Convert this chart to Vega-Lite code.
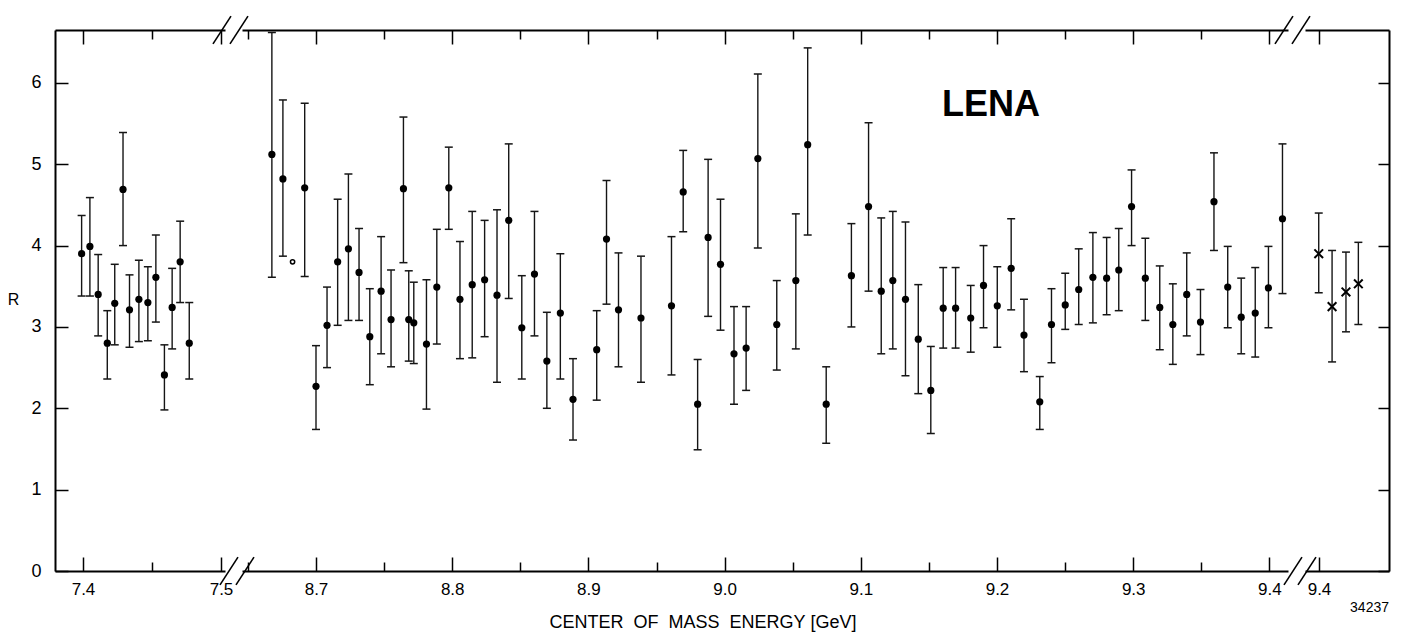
{
  "$schema": "https://vega.github.io/schema/vega-lite/v6.json",
  "padding": {"left": 7, "top": 15, "right": 5, "bottom": 5},
  "background": "white",
  "config": {"view": {"stroke": null}, "font": "Liberation Sans", "axis": {"grid": false}},
  "datasets": {
    "seg1": [
      {"E": 7.399, "R": 3.90, "lo": 3.38, "hi": 4.37, "sym": "dot"},
      {"E": 7.405, "R": 3.99, "lo": 3.38, "hi": 4.59, "sym": "dot"},
      {"E": 7.411, "R": 3.40, "lo": 2.89, "hi": 3.89, "sym": "dot"},
      {"E": 7.4176, "R": 2.80, "lo": 2.36, "hi": 3.20, "sym": "dot"},
      {"E": 7.423, "R": 3.29, "lo": 2.78, "hi": 3.77, "sym": "dot"},
      {"E": 7.429, "R": 4.69, "lo": 4.00, "hi": 5.39, "sym": "dot"},
      {"E": 7.4337, "R": 3.21, "lo": 2.75, "hi": 3.64, "sym": "dot"},
      {"E": 7.4405, "R": 3.34, "lo": 2.82, "hi": 3.82, "sym": "dot"},
      {"E": 7.447, "R": 3.30, "lo": 2.83, "hi": 3.74, "sym": "dot"},
      {"E": 7.4528, "R": 3.61, "lo": 3.06, "hi": 4.13, "sym": "dot"},
      {"E": 7.459, "R": 2.41, "lo": 1.98, "hi": 2.78, "sym": "dot"},
      {"E": 7.4646, "R": 3.24, "lo": 2.73, "hi": 3.72, "sym": "dot"},
      {"E": 7.4704, "R": 3.80, "lo": 3.30, "hi": 4.30, "sym": "dot"},
      {"E": 7.477, "R": 2.80, "lo": 2.36, "hi": 3.30, "sym": "dot"}
    ],
    "seg2": [
      {"E": 8.6676, "R": 5.12, "lo": 3.61, "hi": 6.62, "sym": "dot"},
      {"E": 8.6757, "R": 4.82, "lo": 3.87, "hi": 5.79, "sym": "dot"},
      {"E": 8.6828, "R": 3.80, "lo": null, "hi": null, "sym": "open"},
      {"E": 8.6917, "R": 4.71, "lo": 3.62, "hi": 5.75, "sym": "dot"},
      {"E": 8.7000, "R": 2.27, "lo": 1.74, "hi": 2.77, "sym": "dot"},
      {"E": 8.7081, "R": 3.02, "lo": 2.50, "hi": 3.49, "sym": "dot"},
      {"E": 8.7159, "R": 3.80, "lo": 3.02, "hi": 4.57, "sym": "dot"},
      {"E": 8.7238, "R": 3.96, "lo": 3.08, "hi": 4.88, "sym": "dot"},
      {"E": 8.7316, "R": 3.67, "lo": 3.08, "hi": 4.21, "sym": "dot"},
      {"E": 8.7395, "R": 2.88, "lo": 2.29, "hi": 3.47, "sym": "dot"},
      {"E": 8.7478, "R": 3.44, "lo": 2.67, "hi": 4.11, "sym": "dot"},
      {"E": 8.7551, "R": 3.09, "lo": 2.51, "hi": 3.70, "sym": "dot"},
      {"E": 8.7642, "R": 4.70, "lo": 3.79, "hi": 5.58, "sym": "dot"},
      {"E": 8.7681, "R": 3.09, "lo": 2.58, "hi": 3.69, "sym": "dot"},
      {"E": 8.7718, "R": 3.05, "lo": 2.55, "hi": 3.55, "sym": "dot"},
      {"E": 8.7811, "R": 2.79, "lo": 1.99, "hi": 3.58, "sym": "dot"},
      {"E": 8.7887, "R": 3.49, "lo": 2.79, "hi": 4.20, "sym": "dot"},
      {"E": 8.7975, "R": 4.71, "lo": 4.20, "hi": 5.21, "sym": "dot"},
      {"E": 8.8057, "R": 3.34, "lo": 2.61, "hi": 4.05, "sym": "dot"},
      {"E": 8.8147, "R": 3.52, "lo": 2.62, "hi": 4.42, "sym": "dot"},
      {"E": 8.8238, "R": 3.58, "lo": 2.88, "hi": 4.31, "sym": "dot"},
      {"E": 8.8329, "R": 3.39, "lo": 2.32, "hi": 4.44, "sym": "dot"},
      {"E": 8.8415, "R": 4.31, "lo": 3.35, "hi": 5.25, "sym": "dot"},
      {"E": 8.8511, "R": 2.99, "lo": 2.36, "hi": 3.63, "sym": "dot"},
      {"E": 8.8604, "R": 3.65, "lo": 2.89, "hi": 4.42, "sym": "dot"},
      {"E": 8.8695, "R": 2.58, "lo": 2.00, "hi": 3.18, "sym": "dot"},
      {"E": 8.8794, "R": 3.17, "lo": 2.36, "hi": 3.90, "sym": "dot"},
      {"E": 8.8887, "R": 2.11, "lo": 1.61, "hi": 2.61, "sym": "dot"},
      {"E": 8.9061, "R": 2.72, "lo": 2.10, "hi": 3.20, "sym": "dot"},
      {"E": 8.9133, "R": 4.08, "lo": 3.28, "hi": 4.80, "sym": "dot"},
      {"E": 8.9221, "R": 3.21, "lo": 2.51, "hi": 3.91, "sym": "dot"},
      {"E": 8.9386, "R": 3.11, "lo": 2.32, "hi": 3.87, "sym": "dot"},
      {"E": 8.9610, "R": 3.26, "lo": 2.41, "hi": 4.11, "sym": "dot"},
      {"E": 8.9696, "R": 4.66, "lo": 4.17, "hi": 5.17, "sym": "dot"},
      {"E": 8.9802, "R": 2.05, "lo": 1.49, "hi": 2.60, "sym": "dot"},
      {"E": 8.9879, "R": 4.10, "lo": 3.13, "hi": 5.06, "sym": "dot"},
      {"E": 8.9970, "R": 3.77, "lo": 2.96, "hi": 4.57, "sym": "dot"},
      {"E": 9.0069, "R": 2.67, "lo": 2.05, "hi": 3.25, "sym": "dot"},
      {"E": 9.0158, "R": 2.74, "lo": 2.22, "hi": 3.25, "sym": "dot"},
      {"E": 9.0244, "R": 5.07, "lo": 3.97, "hi": 6.11, "sym": "dot"},
      {"E": 9.0383, "R": 3.03, "lo": 2.47, "hi": 3.57, "sym": "dot"},
      {"E": 9.0523, "R": 3.57, "lo": 2.73, "hi": 4.39, "sym": "dot"},
      {"E": 9.0610, "R": 5.24, "lo": 4.13, "hi": 6.43, "sym": "dot"},
      {"E": 9.0746, "R": 2.05, "lo": 1.57, "hi": 2.51, "sym": "dot"},
      {"E": 9.0931, "R": 3.63, "lo": 3.00, "hi": 4.27, "sym": "dot"},
      {"E": 9.1057, "R": 4.48, "lo": 3.44, "hi": 5.51, "sym": "dot"},
      {"E": 9.1150, "R": 3.44, "lo": 2.67, "hi": 4.34, "sym": "dot"},
      {"E": 9.1235, "R": 3.57, "lo": 2.73, "hi": 4.42, "sym": "dot"},
      {"E": 9.1328, "R": 3.34, "lo": 2.40, "hi": 4.29, "sym": "dot"},
      {"E": 9.1422, "R": 2.85, "lo": 2.18, "hi": 3.52, "sym": "dot"},
      {"E": 9.1514, "R": 2.22, "lo": 1.69, "hi": 2.76, "sym": "dot"},
      {"E": 9.1605, "R": 3.23, "lo": 2.74, "hi": 3.73, "sym": "dot"},
      {"E": 9.1696, "R": 3.23, "lo": 2.74, "hi": 3.73, "sym": "dot"},
      {"E": 9.1807, "R": 3.11, "lo": 2.69, "hi": 3.51, "sym": "dot"},
      {"E": 9.1901, "R": 3.51, "lo": 2.99, "hi": 4.00, "sym": "dot"},
      {"E": 9.2002, "R": 3.26, "lo": 2.75, "hi": 3.74, "sym": "dot"},
      {"E": 9.2104, "R": 3.72, "lo": 3.21, "hi": 4.33, "sym": "dot"},
      {"E": 9.2198, "R": 2.90, "lo": 2.45, "hi": 3.34, "sym": "dot"},
      {"E": 9.2314, "R": 2.08, "lo": 1.74, "hi": 2.39, "sym": "dot"},
      {"E": 9.2400, "R": 3.03, "lo": 2.56, "hi": 3.47, "sym": "dot"},
      {"E": 9.2501, "R": 3.27, "lo": 2.97, "hi": 3.66, "sym": "dot"},
      {"E": 9.2600, "R": 3.46, "lo": 3.03, "hi": 3.96, "sym": "dot"},
      {"E": 9.2704, "R": 3.61, "lo": 3.05, "hi": 4.16, "sym": "dot"},
      {"E": 9.2805, "R": 3.60, "lo": 3.15, "hi": 4.10, "sym": "dot"},
      {"E": 9.2894, "R": 3.70, "lo": 3.20, "hi": 4.21, "sym": "dot"},
      {"E": 9.2988, "R": 4.48, "lo": 4.00, "hi": 4.93, "sym": "dot"},
      {"E": 9.3089, "R": 3.60, "lo": 3.08, "hi": 4.09, "sym": "dot"},
      {"E": 9.3195, "R": 3.24, "lo": 2.72, "hi": 3.75, "sym": "dot"},
      {"E": 9.3291, "R": 3.03, "lo": 2.54, "hi": 3.53, "sym": "dot"},
      {"E": 9.3393, "R": 3.40, "lo": 2.89, "hi": 3.91, "sym": "dot"},
      {"E": 9.3494, "R": 3.06, "lo": 2.66, "hi": 3.46, "sym": "dot"},
      {"E": 9.3593, "R": 4.54, "lo": 3.94, "hi": 5.14, "sym": "dot"},
      {"E": 9.3694, "R": 3.49, "lo": 2.99, "hi": 3.99, "sym": "dot"},
      {"E": 9.3793, "R": 3.12, "lo": 2.67, "hi": 3.60, "sym": "dot"},
      {"E": 9.3896, "R": 3.17, "lo": 2.63, "hi": 3.73, "sym": "dot"},
      {"E": 9.3993, "R": 3.48, "lo": 2.99, "hi": 3.99, "sym": "dot"},
      {"E": 9.4096, "R": 4.33, "lo": 3.41, "hi": 5.25, "sym": "dot"}
    ],
    "seg3": [
      {"E": 9.3998, "R": 3.90, "lo": 3.42, "hi": 4.40, "sym": "x"},
      {"E": 9.4096, "R": 3.25, "lo": 2.57, "hi": 3.94, "sym": "x"},
      {"E": 9.4198, "R": 3.43, "lo": 2.94, "hi": 3.92, "sym": "x"},
      {"E": 9.4289, "R": 3.53, "lo": 3.03, "hi": 4.04, "sym": "x"}
    ]
  },
  "spacing": 17,
  "bounds": "flush",
  "hconcat": [
    {
      "width": 170,
      "height": 541,
      "data": {"name": "seg1"},
      "resolve": {"axis": {"x": "independent", "y": "independent"}},
      "layer": [
        {
          "mark": {"type": "rule", "color": "#151515", "strokeWidth": 1.4},
          "encoding": {
            "x": {"field": "E", "type": "quantitative", "scale": {"domain": [7.37971, 7.502899], "nice": false, "zero": false},
              "axis": {"orient": "bottom", "values": [7.4, 7.45, 7.5], "title": null, "domain": true, "domainWidth": 2, "domainColor": "black", "ticks": true, "tickColor": "black", "tickWidth": 1.5,
                "tickSize": {"condition": {"test": "abs(datum.value*10-round(datum.value*10))<0.01", "value": -14}, "value": -9},
                "labelExpr": "abs(datum.value*10-round(datum.value*10))<0.01 ? format(datum.value,'.1f') : ''",
                "labelFont": "Liberation Sans", "labelFontSize": 17, "labelColor": "black", "labelPadding": 24, "labelFlush": false, "labelOverlap": false, "grid": false}},
            "y": {"field": "lo", "type": "quantitative", "scale": {"domain": [0, 6.65], "nice": false, "zero": false},
              "axis": {"orient": "left", "values": [0, 1, 2, 3, 4, 5, 6], "format": "d", "title": "R", "titleAngle": 0, "titleX": -42, "titleY": 269, "titleAlign": "center", "titleBaseline": "middle", "titleFont": "Liberation Sans", "titleFontSize": 16, "titleFontWeight": "normal", "titleColor": "black",
                "domain": true, "domainWidth": 2, "domainColor": "black", "tickSize": -13, "tickWidth": 1.5, "tickColor": "black",
                "labelFont": "Liberation Sans", "labelFontSize": 18, "labelColor": "black", "labelPadding": 27, "labelFlush": false, "grid": false}},
            "y2": {"field": "hi"}
          }
        },
        {
          "mark": {"type": "tick", "orient": "horizontal", "size": 8, "thickness": 1.5, "color": "#151515", "opacity": 1},
          "encoding": {
            "x": {"field": "E", "type": "quantitative", "scale": {"domain": [7.37971, 7.502899], "nice": false, "zero": false}, "axis": null},
            "y": {"field": "lo", "type": "quantitative", "scale": {"domain": [0, 6.65], "nice": false, "zero": false}, "axis": null}
          }
        },
        {
          "mark": {"type": "tick", "orient": "horizontal", "size": 8, "thickness": 1.5, "color": "#151515", "opacity": 1},
          "encoding": {
            "x": {"field": "E", "type": "quantitative", "scale": {"domain": [7.37971, 7.502899], "nice": false, "zero": false}, "axis": null},
            "y": {"field": "hi", "type": "quantitative", "scale": {"domain": [0, 6.65], "nice": false, "zero": false}, "axis": null}
          }
        },
        {
          "mark": {"type": "point", "shape": "circle", "filled": true, "size": 52, "color": "black", "opacity": 1},
          "encoding": {
            "x": {"field": "E", "type": "quantitative", "scale": {"domain": [7.37971, 7.502899], "nice": false, "zero": false},
              "axis": {"orient": "top", "values": [7.4, 7.45, 7.5], "title": null, "labels": false, "domain": true, "domainWidth": 2, "domainColor": "black", "tickColor": "black", "tickWidth": 1.5,
                "tickSize": {"condition": {"test": "abs(datum.value*10-round(datum.value*10))<0.01", "value": -14}, "value": -9}, "grid": false}},
            "y": {"field": "R", "type": "quantitative", "scale": {"domain": [0, 6.65], "nice": false, "zero": false}, "axis": null}
          }
        },
        {
          "data": {"values": [{}]},
          "mark": {"type": "rule", "color": "black", "strokeWidth": 1.6},
          "encoding": {
            "x": {"datum": 7.494203, "type": "quantitative", "scale": {"domain": [7.37971, 7.502899], "nice": false, "zero": false}, "axis": null},
            "x2": {"datum": 7.507246},
            "y": {"datum": 6.48, "type": "quantitative", "scale": {"domain": [0, 6.65], "nice": false, "zero": false}, "axis": null},
            "y2": {"datum": 6.82}
          }
        },
        {
          "data": {"values": [{}]},
          "mark": {"type": "rule", "color": "black", "strokeWidth": 1.6},
          "encoding": {
            "x": {"datum": 7.506522, "type": "quantitative", "scale": {"domain": [7.37971, 7.502899], "nice": false, "zero": false}, "axis": null},
            "x2": {"datum": 7.519565},
            "y": {"datum": 6.48, "type": "quantitative", "scale": {"domain": [0, 6.65], "nice": false, "zero": false}, "axis": null},
            "y2": {"datum": 6.82}
          }
        },
        {
          "data": {"values": [{}]},
          "mark": {"type": "rule", "color": "black", "strokeWidth": 1.6},
          "encoding": {
            "x": {"datum": 7.499275, "type": "quantitative", "scale": {"domain": [7.37971, 7.502899], "nice": false, "zero": false}, "axis": null},
            "x2": {"datum": 7.512319},
            "y": {"datum": -0.17, "type": "quantitative", "scale": {"domain": [0, 6.65], "nice": false, "zero": false}, "axis": null},
            "y2": {"datum": 0.17}
          }
        },
        {
          "data": {"values": [{}]},
          "mark": {"type": "rule", "color": "black", "strokeWidth": 1.6},
          "encoding": {
            "x": {"datum": 7.51087, "type": "quantitative", "scale": {"domain": [7.37971, 7.502899], "nice": false, "zero": false}, "axis": null},
            "x2": {"datum": 7.523913},
            "y": {"datum": -0.17, "type": "quantitative", "scale": {"domain": [0, 6.65], "nice": false, "zero": false}, "axis": null},
            "y2": {"datum": 0.17}
          }
        }
      ]
    },
    {
      "width": 1046,
      "height": 541,
      "data": {"name": "seg2"},
      "resolve": {"axis": {"x": "independent", "y": "independent"}},
      "layer": [
        {
          "mark": {"type": "rule", "color": "#151515", "strokeWidth": 1.4},
          "encoding": {
            "x": {"field": "E", "type": "quantitative", "scale": {"domain": [8.645668, 9.413656], "nice": false, "zero": false},
              "axis": {"orient": "bottom", "values": [8.65, 8.7, 8.75, 8.8, 8.85, 8.9, 8.95, 9.0, 9.05, 9.1, 9.15, 9.2, 9.25, 9.3, 9.35, 9.4], "domain": true, "domainWidth": 2, "domainColor": "black", "ticks": true, "tickColor": "black", "tickWidth": 1.5,
                "tickSize": {"condition": {"test": "abs(datum.value*10-round(datum.value*10))<0.01", "value": -14}, "value": -9},
                "labelExpr": "abs(datum.value*10-round(datum.value*10))<0.01 ? format(datum.value,'.1f') : ''",
                "labelFont": "Liberation Sans", "labelFontSize": 17, "labelColor": "black", "labelPadding": 24, "labelFlush": false, "labelOverlap": false, "grid": false,
                "title": "CENTER\u00a0\u00a0OF\u00a0\u00a0MASS\u00a0\u00a0ENERGY\u00a0[GeV]", "titleX": 460.5, "titleY": 51, "titleAlign": "center", "titleBaseline": "middle", "titleFont": "Liberation Sans", "titleFontSize": 18, "titleFontWeight": "normal", "titleColor": "black"}},
            "y": {"field": "lo", "type": "quantitative", "scale": {"domain": [0, 6.65], "nice": false, "zero": false}, "axis": null},
            "y2": {"field": "hi"}
          }
        },
        {
          "mark": {"type": "tick", "orient": "horizontal", "size": 8, "thickness": 1.5, "color": "#151515", "opacity": 1},
          "encoding": {
            "x": {"field": "E", "type": "quantitative", "scale": {"domain": [8.645668, 9.413656], "nice": false, "zero": false}, "axis": null},
            "y": {"field": "lo", "type": "quantitative", "scale": {"domain": [0, 6.65], "nice": false, "zero": false}, "axis": null}
          }
        },
        {
          "mark": {"type": "tick", "orient": "horizontal", "size": 8, "thickness": 1.5, "color": "#151515", "opacity": 1},
          "encoding": {
            "x": {"field": "E", "type": "quantitative", "scale": {"domain": [8.645668, 9.413656], "nice": false, "zero": false}, "axis": null},
            "y": {"field": "hi", "type": "quantitative", "scale": {"domain": [0, 6.65], "nice": false, "zero": false}, "axis": null}
          }
        },
        {
          "transform": [{"filter": "datum.sym == 'dot'"}],
          "mark": {"type": "point", "shape": "circle", "filled": true, "size": 52, "color": "black", "opacity": 1},
          "encoding": {
            "x": {"field": "E", "type": "quantitative", "scale": {"domain": [8.645668, 9.413656], "nice": false, "zero": false},
              "axis": {"orient": "top", "values": [8.65, 8.7, 8.75, 8.8, 8.85, 8.9, 8.95, 9.0, 9.05, 9.1, 9.15, 9.2, 9.25, 9.3, 9.35, 9.4], "title": null, "labels": false, "domain": true, "domainWidth": 2, "domainColor": "black", "tickColor": "black", "tickWidth": 1.5,
                "tickSize": {"condition": {"test": "abs(datum.value*10-round(datum.value*10))<0.01", "value": -14}, "value": -9}, "grid": false}},
            "y": {"field": "R", "type": "quantitative", "scale": {"domain": [0, 6.65], "nice": false, "zero": false}, "axis": null}
          }
        },
        {
          "transform": [{"filter": "datum.sym == 'open'"}],
          "mark": {"type": "point", "shape": "circle", "filled": false, "size": 18, "strokeWidth": 1.5, "color": "black", "opacity": 1},
          "encoding": {
            "x": {"field": "E", "type": "quantitative", "scale": {"domain": [8.645668, 9.413656], "nice": false, "zero": false}, "axis": null},
            "y": {"field": "R", "type": "quantitative", "scale": {"domain": [0, 6.65], "nice": false, "zero": false}, "axis": null}
          }
        },
        {
          "data": {"values": [{}]},
          "mark": {"type": "text", "text": "LENA", "font": "Liberation Sans", "fontSize": 36, "fontWeight": "bold", "color": "black", "align": "center", "baseline": "middle"},
          "encoding": {
            "x": {"datum": 9.195595, "type": "quantitative", "scale": {"domain": [8.645668, 9.413656], "nice": false, "zero": false}, "axis": null},
            "y": {"datum": 5.73, "type": "quantitative", "scale": {"domain": [0, 6.65], "nice": false, "zero": false}, "axis": null}
          }
        },
        {
          "data": {"values": [{}]},
          "mark": {"type": "rule", "color": "black", "strokeWidth": 1.6},
          "encoding": {
            "x": {"datum": 9.404111, "type": "quantitative", "scale": {"domain": [8.645668, 9.413656], "nice": false, "zero": false}, "axis": null},
            "x2": {"datum": 9.417327},
            "y": {"datum": 6.48, "type": "quantitative", "scale": {"domain": [0, 6.65], "nice": false, "zero": false}, "axis": null},
            "y2": {"datum": 6.82}
          }
        },
        {
          "data": {"values": [{}]},
          "mark": {"type": "rule", "color": "black", "strokeWidth": 1.6},
          "encoding": {
            "x": {"datum": 9.416593, "type": "quantitative", "scale": {"domain": [8.645668, 9.413656], "nice": false, "zero": false}, "axis": null},
            "x2": {"datum": 9.429809},
            "y": {"datum": 6.48, "type": "quantitative", "scale": {"domain": [0, 6.65], "nice": false, "zero": false}, "axis": null},
            "y2": {"datum": 6.82}
          }
        },
        {
          "data": {"values": [{}]},
          "mark": {"type": "rule", "color": "black", "strokeWidth": 1.6},
          "encoding": {
            "x": {"datum": 9.410719, "type": "quantitative", "scale": {"domain": [8.645668, 9.413656], "nice": false, "zero": false}, "axis": null},
            "x2": {"datum": 9.423935},
            "y": {"datum": -0.17, "type": "quantitative", "scale": {"domain": [0, 6.65], "nice": false, "zero": false}, "axis": null},
            "y2": {"datum": 0.17}
          }
        },
        {
          "data": {"values": [{}]},
          "mark": {"type": "rule", "color": "black", "strokeWidth": 1.6},
          "encoding": {
            "x": {"datum": 9.420998, "type": "quantitative", "scale": {"domain": [8.645668, 9.413656], "nice": false, "zero": false}, "axis": null},
            "x2": {"datum": 9.434214},
            "y": {"datum": -0.17, "type": "quantitative", "scale": {"domain": [0, 6.65], "nice": false, "zero": false}, "axis": null},
            "y2": {"datum": 0.17}
          }
        }
      ]
    },
    {
      "width": 84,
      "height": 541,
      "data": {"name": "seg3"},
      "resolve": {"axis": {"x": "independent", "y": "independent"}},
      "layer": [
        {
          "mark": {"type": "rule", "color": "#151515", "strokeWidth": 1.4},
          "encoding": {
            "x": {"field": "E", "type": "quantitative", "scale": {"domain": [9.389721, 9.451395], "nice": false, "zero": false},
              "axis": {"orient": "bottom", "values": [9.4], "title": null, "domain": true, "domainWidth": 2, "domainColor": "black", "ticks": true, "tickColor": "black", "tickWidth": 1.5, "tickSize": -14,
                "format": ".1f", "labelFont": "Liberation Sans", "labelFontSize": 17, "labelColor": "black", "labelPadding": 24, "labelFlush": false, "labelOverlap": false, "grid": false}},
            "y": {"field": "lo", "type": "quantitative", "scale": {"domain": [0, 6.65], "nice": false, "zero": false},
              "axis": {"orient": "right", "values": [0, 1, 2, 3, 4, 5, 6], "title": null, "labels": false, "domain": true, "domainWidth": 2, "domainColor": "black", "tickSize": -11, "tickWidth": 1.5, "tickColor": "black", "grid": false}},
            "y2": {"field": "hi"}
          }
        },
        {
          "mark": {"type": "tick", "orient": "horizontal", "size": 8, "thickness": 1.5, "color": "#151515", "opacity": 1},
          "encoding": {
            "x": {"field": "E", "type": "quantitative", "scale": {"domain": [9.389721, 9.451395], "nice": false, "zero": false}, "axis": null},
            "y": {"field": "lo", "type": "quantitative", "scale": {"domain": [0, 6.65], "nice": false, "zero": false}, "axis": null}
          }
        },
        {
          "mark": {"type": "tick", "orient": "horizontal", "size": 8, "thickness": 1.5, "color": "#151515", "opacity": 1},
          "encoding": {
            "x": {"field": "E", "type": "quantitative", "scale": {"domain": [9.389721, 9.451395], "nice": false, "zero": false}, "axis": null},
            "y": {"field": "hi", "type": "quantitative", "scale": {"domain": [0, 6.65], "nice": false, "zero": false}, "axis": null}
          }
        },
        {
          "mark": {"type": "point", "shape": "M-1,-1L1,1M-1,1L1,-1", "filled": false, "size": 75, "strokeWidth": 2, "color": "black", "opacity": 1},
          "encoding": {
            "x": {"field": "E", "type": "quantitative", "scale": {"domain": [9.389721, 9.451395], "nice": false, "zero": false},
              "axis": {"orient": "top", "values": [9.4], "title": null, "labels": false, "domain": true, "domainWidth": 2, "domainColor": "black", "tickColor": "black", "tickWidth": 1.5, "tickSize": -14, "grid": false}},
            "y": {"field": "R", "type": "quantitative", "scale": {"domain": [0, 6.65], "nice": false, "zero": false}, "axis": null}
          }
        },
        {
          "data": {"values": [{}]},
          "mark": {"type": "text", "text": "34237", "font": "Liberation Sans", "fontSize": 14, "color": "black", "align": "right", "baseline": "middle"},
          "encoding": {
            "x": {"datum": 9.451395, "type": "quantitative", "scale": {"domain": [9.389721, 9.451395], "nice": false, "zero": false}, "axis": null},
            "y": {"datum": -0.45, "type": "quantitative", "scale": {"domain": [0, 6.65], "nice": false, "zero": false}, "axis": null}
          }
        }
      ]
    }
  ]
}
